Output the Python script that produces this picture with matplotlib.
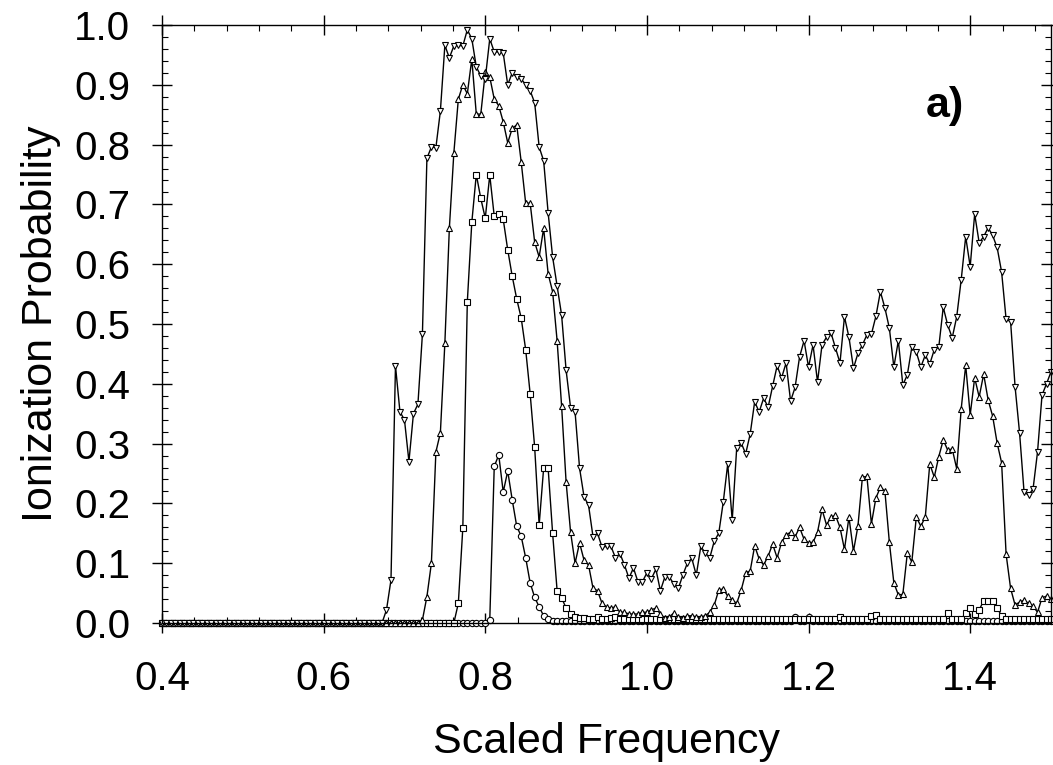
import numpy as np
import matplotlib
matplotlib.use("Agg")
import matplotlib.pyplot as plt
from matplotlib.ticker import MultipleLocator, AutoMinorLocator

plt.rcParams['font.family'] = ['Liberation Sans', 'DejaVu Sans']

# Scaled frequency grid: 199 samples from 0.4 to 1.5
freq = np.linspace(0.4, 1.5, 199)

# Ionization probability, one list per curve
prob_down_tri = [
    0.0, 0.0, 0.0, 0.0, 0.0, 0.0, 0.0, 0.0, 0.0, 0.0,
    0.0, 0.0, 0.0, 0.0, 0.0, 0.0, 0.0, 0.0, 0.0, 0.0,
    0.0, 0.0, 0.0, 0.0, 0.0, 0.0, 0.0, 0.0, 0.0, 0.0,
    0.0, 0.0, 0.0, 0.0, 0.0, 0.0, 0.0, 0.0, 0.0, 0.0,
    0.0, 0.0, 0.0, 0.0, 0.0, 0.0, 0.0, 0.0, 0.0, 0.0,
    0.022, 0.072, 0.43, 0.353, 0.34, 0.27, 0.35, 0.366, 0.483, 0.777,
    0.796, 0.795, 0.856, 0.966, 0.945, 0.965, 0.966, 0.965, 0.992, 0.977,
    0.93, 0.915, 0.91, 0.977, 0.955, 0.955, 0.953, 0.90, 0.92, 0.913,
    0.91, 0.90, 0.89, 0.87, 0.796, 0.773, 0.686, 0.612, 0.563, 0.515,
    0.423, 0.36, 0.353, 0.259, 0.211, 0.197, 0.144, 0.15, 0.127, 0.128,
    0.128, 0.109, 0.116, 0.097, 0.075, 0.092, 0.069, 0.069, 0.084, 0.074,
    0.09, 0.054, 0.077, 0.077, 0.065, 0.058, 0.08, 0.10, 0.108, 0.08,
    0.128, 0.117, 0.109, 0.137, 0.15, 0.202, 0.266, 0.172, 0.293, 0.301,
    0.283, 0.316, 0.37, 0.353, 0.376, 0.361, 0.396, 0.43, 0.41, 0.435,
    0.371, 0.394, 0.445, 0.472, 0.428, 0.465, 0.403, 0.465, 0.478, 0.485,
    0.46, 0.435, 0.512, 0.478, 0.426, 0.451, 0.465, 0.482, 0.483, 0.513,
    0.554, 0.527, 0.493, 0.428, 0.472, 0.398, 0.415, 0.461, 0.453, 0.428,
    0.448, 0.433, 0.457, 0.461, 0.528, 0.498, 0.477, 0.512, 0.574, 0.646,
    0.596, 0.684, 0.636, 0.646, 0.661, 0.648, 0.628, 0.587, 0.508, 0.504,
    0.395, 0.318, 0.219, 0.214, 0.224, 0.286, 0.381, 0.40, 0.42,
]

prob_up_tri = [
    0.0, 0.0, 0.0, 0.0, 0.0, 0.0, 0.0, 0.0, 0.0, 0.0,
    0.0, 0.0, 0.0, 0.0, 0.0, 0.0, 0.0, 0.0, 0.0, 0.0,
    0.0, 0.0, 0.0, 0.0, 0.0, 0.0, 0.0, 0.0, 0.0, 0.0,
    0.0, 0.0, 0.0, 0.0, 0.0, 0.0, 0.0, 0.0, 0.0, 0.0,
    0.0, 0.0, 0.0, 0.0, 0.0, 0.0, 0.0, 0.0, 0.0, 0.0,
    0.0, 0.0, 0.0, 0.0, 0.0, 0.0, 0.0, 0.0, 0.005, 0.044,
    0.10, 0.286, 0.318, 0.468, 0.66, 0.786, 0.876, 0.90, 0.885, 0.943,
    0.851, 0.851, 0.921, 0.913, 0.876, 0.865, 0.838, 0.803, 0.827, 0.833,
    0.771, 0.702, 0.702, 0.637, 0.612, 0.66, 0.584, 0.554, 0.472, 0.363,
    0.236, 0.152, 0.10, 0.134, 0.105, 0.097, 0.058, 0.054, 0.033, 0.027,
    0.025, 0.027, 0.018, 0.018, 0.015, 0.015, 0.015, 0.018, 0.018, 0.022,
    0.025, 0.015, 0.008, 0.01, 0.017, 0.01, 0.008, 0.012, 0.012, 0.01,
    0.01, 0.012, 0.018, 0.03, 0.055, 0.057, 0.045, 0.038, 0.033, 0.055,
    0.084, 0.087, 0.129, 0.107, 0.097, 0.112, 0.132, 0.109, 0.135, 0.147,
    0.152, 0.144, 0.16, 0.14, 0.134, 0.135, 0.152, 0.19, 0.164, 0.177,
    0.18, 0.16, 0.123, 0.177, 0.12, 0.162, 0.244, 0.245, 0.166, 0.209,
    0.227, 0.221, 0.135, 0.067, 0.047, 0.048, 0.117, 0.102, 0.177, 0.162,
    0.177, 0.266, 0.244, 0.278, 0.306, 0.289, 0.291, 0.258, 0.358, 0.431,
    0.348, 0.41, 0.378, 0.416, 0.373, 0.346, 0.301, 0.268, 0.115, 0.058,
    0.03, 0.035, 0.038, 0.033, 0.028, 0.018, 0.042, 0.045, 0.04,
]

prob_square = [
    0.0, 0.0, 0.0, 0.0, 0.0, 0.0, 0.0, 0.0, 0.0, 0.0,
    0.0, 0.0, 0.0, 0.0, 0.0, 0.0, 0.0, 0.0, 0.0, 0.0,
    0.0, 0.0, 0.0, 0.0, 0.0, 0.0, 0.0, 0.0, 0.0, 0.0,
    0.0, 0.0, 0.0, 0.0, 0.0, 0.0, 0.0, 0.0, 0.0, 0.0,
    0.0, 0.0, 0.0, 0.0, 0.0, 0.0, 0.0, 0.0, 0.0, 0.0,
    0.0, 0.0, 0.0, 0.0, 0.0, 0.0, 0.0, 0.0, 0.0, 0.0,
    0.0, 0.0, 0.0, 0.0, 0.0, 0.0, 0.033, 0.159, 0.537, 0.67,
    0.75, 0.71, 0.677, 0.749, 0.68, 0.684, 0.675, 0.624, 0.58, 0.542,
    0.51, 0.457, 0.383, 0.294, 0.164, 0.259, 0.259, 0.15, 0.054, 0.042,
    0.025, 0.015, 0.01, 0.008, 0.008, 0.006, 0.006, 0.01, 0.006, 0.006,
    0.008, 0.01, 0.006, 0.006, 0.006, 0.006, 0.006, 0.006, 0.006, 0.006,
    0.006, 0.006, 0.006, 0.006, 0.006, 0.006, 0.006, 0.006, 0.006, 0.006,
    0.006, 0.006, 0.006, 0.006, 0.006, 0.006, 0.006, 0.006, 0.006, 0.006,
    0.006, 0.006, 0.006, 0.006, 0.006, 0.006, 0.006, 0.006, 0.006, 0.006,
    0.006, 0.006, 0.006, 0.006, 0.006, 0.006, 0.006, 0.006, 0.006, 0.006,
    0.006, 0.01, 0.006, 0.006, 0.006, 0.006, 0.006, 0.006, 0.012, 0.014,
    0.006, 0.006, 0.006, 0.006, 0.006, 0.006, 0.006, 0.006, 0.006, 0.006,
    0.006, 0.006, 0.006, 0.006, 0.006, 0.017, 0.006, 0.006, 0.006, 0.017,
    0.025, 0.015, 0.022, 0.037, 0.037, 0.037, 0.025, 0.012, 0.006, 0.006,
    0.006, 0.006, 0.006, 0.006, 0.006, 0.006, 0.006, 0.006, 0.006,
]

prob_circle = [
    0.0, 0.0, 0.0, 0.0, 0.0, 0.0, 0.0, 0.0, 0.0, 0.0,
    0.0, 0.0, 0.0, 0.0, 0.0, 0.0, 0.0, 0.0, 0.0, 0.0,
    0.0, 0.0, 0.0, 0.0, 0.0, 0.0, 0.0, 0.0, 0.0, 0.0,
    0.0, 0.0, 0.0, 0.0, 0.0, 0.0, 0.0, 0.0, 0.0, 0.0,
    0.0, 0.0, 0.0, 0.0, 0.0, 0.0, 0.0, 0.0, 0.0, 0.0,
    0.0, 0.0, 0.0, 0.0, 0.0, 0.0, 0.0, 0.0, 0.0, 0.0,
    0.0, 0.0, 0.0, 0.0, 0.0, 0.0, 0.0, 0.0, 0.0, 0.0,
    0.0, 0.0, 0.0, 0.005, 0.262, 0.281, 0.219, 0.254, 0.206, 0.162,
    0.145, 0.109, 0.067, 0.043, 0.027, 0.012, 0.006, 0.003, 0.003, 0.003,
    0.003, 0.003, 0.003, 0.003, 0.003, 0.003, 0.003, 0.003, 0.003, 0.003,
    0.003, 0.003, 0.003, 0.003, 0.003, 0.003, 0.003, 0.003, 0.003, 0.003,
    0.003, 0.003, 0.003, 0.003, 0.003, 0.003, 0.003, 0.003, 0.003, 0.003,
    0.003, 0.003, 0.003, 0.003, 0.003, 0.003, 0.003, 0.003, 0.003, 0.003,
    0.003, 0.003, 0.003, 0.003, 0.003, 0.003, 0.003, 0.003, 0.003, 0.003,
    0.003, 0.01, 0.003, 0.003, 0.01, 0.003, 0.003, 0.003, 0.003, 0.003,
    0.003, 0.003, 0.003, 0.003, 0.003, 0.003, 0.003, 0.003, 0.003, 0.003,
    0.003, 0.003, 0.003, 0.003, 0.003, 0.003, 0.003, 0.003, 0.003, 0.003,
    0.003, 0.003, 0.003, 0.003, 0.003, 0.003, 0.003, 0.003, 0.003, 0.003,
    0.003, 0.003, 0.003, 0.003, 0.003, 0.003, 0.003, 0.003, 0.003, 0.003,
    0.003, 0.003, 0.003, 0.003, 0.003, 0.003, 0.003, 0.003, 0.003,
]

fig = plt.figure(figsize=(10.53, 7.65), dpi=100)
ax = fig.add_axes([162 / 1053, 1 - 623 / 765, 889 / 1053, 598 / 765])

curves = [
    (prob_circle, 'o'),
    (prob_square, 's'),
    (prob_up_tri, '^'),
    (prob_down_tri, 'v'),
]
for values, marker in curves:
    ax.plot(freq, values, color='black', lw=1.0, marker=marker,
            markersize=4.5, markerfacecolor='white', markeredgecolor='black',
            markeredgewidth=0.8, clip_on=False)

ax.set_xlim(0.4, 1.5)
ax.set_ylim(0.0, 1.0)
ax.xaxis.set_major_locator(MultipleLocator(0.2))
ax.xaxis.set_minor_locator(AutoMinorLocator(5))
ax.yaxis.set_major_locator(MultipleLocator(0.1))
ax.yaxis.set_minor_locator(AutoMinorLocator(5))
ax.xaxis.set_major_formatter(plt.FuncFormatter(lambda v, p: f"{v:.1f}"))
ax.yaxis.set_major_formatter(plt.FuncFormatter(lambda v, p: f"{v:.1f}"))

ax.tick_params(which='major', direction='inout', length=14, width=1.0,
               top=True, right=True, labelsize=29)
ax.tick_params(which='minor', direction='in', length=4, width=0.8,
               top=True, right=True)
ax.tick_params(axis='x', which='major', pad=20)
ax.tick_params(axis='y', which='major', pad=16)
for sp in ax.spines.values():
    sp.set_linewidth(1.0)

ax.set_xlabel('Scaled Frequency', fontsize=31)
ax.xaxis.set_label_coords(0.5, -0.165)
ax.set_ylabel('Ionization Probability', fontsize=31)
ax.yaxis.set_label_coords(-0.114, 0.5)

fig.text(926 / 1053, 1 - 117 / 765, 'a)', fontsize=31, fontweight='bold',
         ha='left', va='baseline')

fig.savefig('out.png', dpi=100)
